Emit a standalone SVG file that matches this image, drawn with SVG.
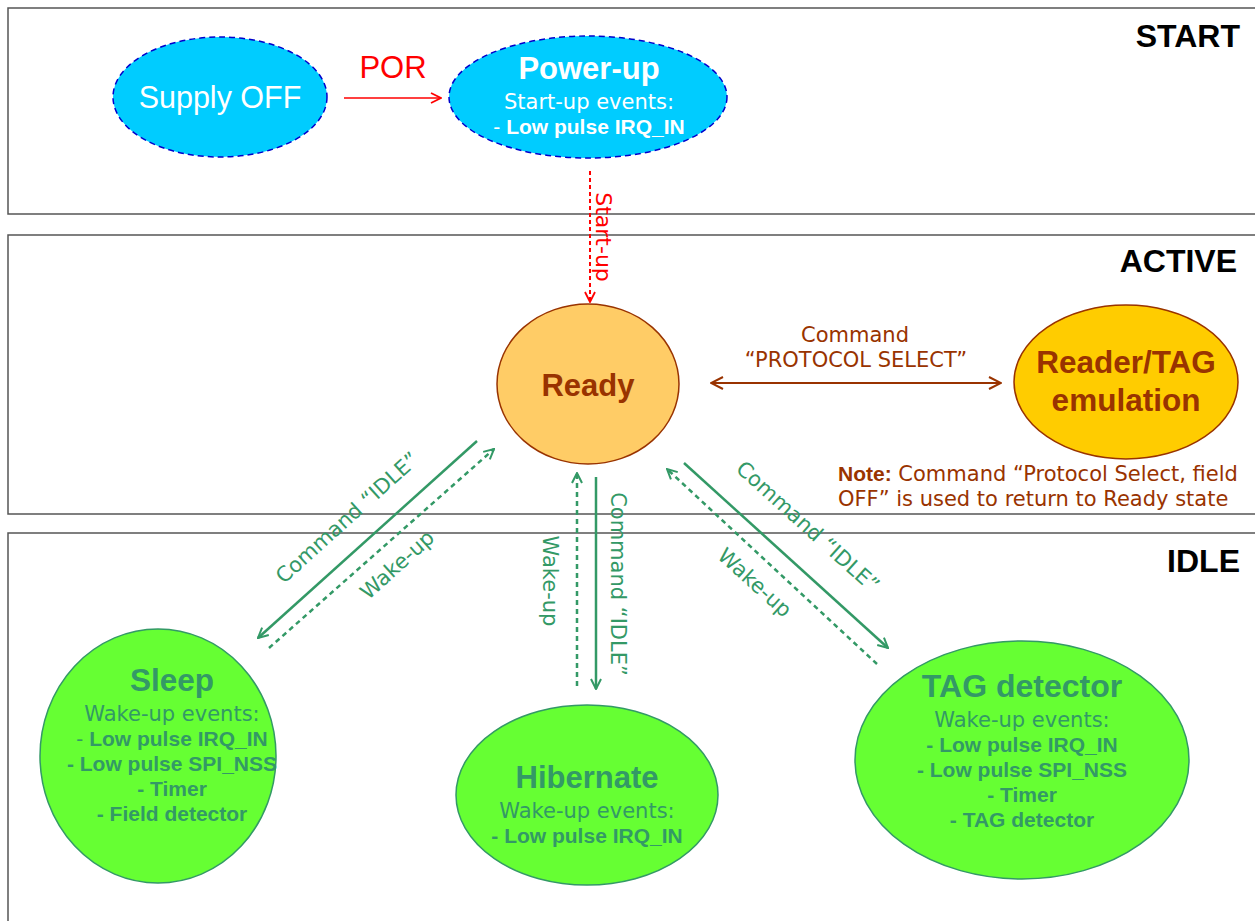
<svg xmlns="http://www.w3.org/2000/svg" width="1255" height="921" viewBox="0 0 1255 921">
<style>
.box{fill:#fff;stroke:#555;stroke-width:1.5}
.hdr{font-family:"Liberation Sans",Arial,sans-serif;font-weight:bold;font-size:32px;fill:#000;text-anchor:end}
.v{font-family:"DejaVu Sans",Verdana,sans-serif}
.a{font-family:"Liberation Sans",Arial,sans-serif}
.c{text-anchor:middle}
.g{fill:#339966}
.gl{stroke:#339966;stroke-width:2.5;fill:none}
.gd{stroke:#339966;stroke-width:2.5;fill:none;stroke-dasharray:5 4}
.b{font-weight:bold}
</style>
<defs>
<marker id="ag" viewBox="0 0 12 12" refX="11" refY="6" markerWidth="12" markerHeight="12" markerUnits="userSpaceOnUse" orient="auto-start-reverse">
<path d="M1,1 L11,6 L1,11" fill="none" stroke="#339966" stroke-width="2"/>
</marker>
<marker id="ar" viewBox="0 0 12 12" refX="11" refY="6" markerWidth="12" markerHeight="12" markerUnits="userSpaceOnUse" orient="auto-start-reverse">
<path d="M1,1 L11,6 L1,11" fill="none" stroke="#ff0000" stroke-width="1.8"/>
</marker>
<marker id="ab" viewBox="0 0 14 14" refX="13" refY="7" markerWidth="14" markerHeight="14" markerUnits="userSpaceOnUse" orient="auto-start-reverse">
<path d="M1,1 L13,7 L1,13" fill="none" stroke="#993300" stroke-width="2"/>
</marker>
</defs>

<g id="zones">
<rect class="box" x="8" y="8" width="1260" height="206"/>
<rect class="box" x="8" y="235" width="1260" height="279"/>
<rect class="box" x="8" y="533" width="1260" height="400"/>
<text class="hdr" x="1240" y="47">START</text>
<text class="hdr" x="1237" y="272">ACTIVE</text>
<text class="hdr" x="1240" y="572">IDLE</text>
</g>

<g id="connectors">
<line x1="344" y1="98" x2="441" y2="98" stroke="#ff0000" stroke-width="1.5" marker-end="url(#ar)"/>
<text class="a c" x="393" y="78" font-size="31" fill="#ff0000">POR</text>
<line x1="590" y1="171" x2="590" y2="302" stroke="#ff0000" stroke-width="2" stroke-dasharray="4 3" marker-end="url(#ar)"/>
<text class="v c" font-size="22" fill="#ff0000" transform="translate(596,237) rotate(90)">Start-up</text>

<line x1="711" y1="383" x2="1001" y2="383" stroke="#993300" stroke-width="2" marker-start="url(#ab)" marker-end="url(#ab)"/>
<text class="v c" font-size="21" fill="#993300" x="855" y="342">Command</text>
<text class="v c" font-size="21" fill="#993300" x="856" y="367">“PROTOCOL SELECT”</text>

<line class="gl" x1="477" y1="441" x2="258" y2="638" marker-end="url(#ag)"/>
<line class="gd" x1="269" y1="648" x2="494" y2="449" marker-end="url(#ag)"/>
<text class="v c g" font-size="21" transform="translate(352,523) rotate(-42)">Command “IDLE”</text>
<text class="v c g" font-size="21" transform="translate(402,570) rotate(-42)">Wake-up</text>

<line class="gd" x1="577" y1="686" x2="577" y2="473" marker-end="url(#ag)"/>
<line class="gl" x1="596" y1="477" x2="596" y2="689" marker-end="url(#ag)"/>
<text class="v c g" font-size="21" transform="translate(611,584) rotate(90)">Command “IDLE”</text>
<text class="v c g" font-size="21" transform="translate(543,581) rotate(90)">Wake-up</text>

<line class="gl" x1="684" y1="463" x2="888" y2="648" marker-end="url(#ag)"/>
<line class="gd" x1="877" y1="664" x2="667" y2="469" marker-end="url(#ag)"/>
<text class="v c g" font-size="21" transform="translate(803,532) rotate(42)">Command “IDLE”</text>
<text class="v c g" font-size="21" transform="translate(750,588) rotate(42)">Wake-up</text>
</g>

<g id="supply-off">
<ellipse cx="220" cy="97" rx="107" ry="60" fill="#00ccff" stroke="#0000cc" stroke-width="1.5" stroke-dasharray="6 4"/>
<text class="a c" x="220" y="108" font-size="30.5" fill="#fff">Supply OFF</text>
</g>

<g id="power-up">
<ellipse cx="588" cy="97" rx="139" ry="61" fill="#00ccff" stroke="#0000cc" stroke-width="1.5" stroke-dasharray="6 4"/>
<text class="a c b" x="589" y="79" font-size="31" fill="#fff">Power-up</text>
<text class="v c" x="589" y="109" font-size="21" fill="#fff">Start-up events:</text>
<text class="a c" x="589" y="134" font-size="21" fill="#fff">- <tspan class="b">Low pulse IRQ_IN</tspan></text>
</g>

<g id="ready">
<ellipse cx="588" cy="384" rx="91" ry="80" fill="#ffcc66" stroke="#993300" stroke-width="1.5"/>
<text class="a c b" x="588" y="396" font-size="31" fill="#993300">Ready</text>
</g>

<g id="reader-tag">
<ellipse cx="1126" cy="382" rx="112" ry="77" fill="#ffcc00" stroke="#993300" stroke-width="1.5"/>
<text class="a c b" x="1126" y="373" font-size="31.5" fill="#993300">Reader/TAG</text>
<text class="a c b" x="1126" y="411" font-size="31.5" fill="#993300">emulation</text>
</g>

<g id="note">
<text class="v" x="838" y="481" font-size="21" fill="#993300"><tspan class="a b" font-size="21">Note:</tspan> Command “Protocol Select, field</text>
<text class="v" x="838" y="506" font-size="21" fill="#993300">OFF” is used to return to Ready state</text>
</g>

<g id="sleep">
<ellipse cx="158" cy="756" rx="118" ry="127" fill="#66ff33" stroke="#339966" stroke-width="1.5"/>
<text class="a c b g" x="172" y="691" font-size="31.5">Sleep</text>
<text class="v c g" x="172" y="721" font-size="21">Wake-up events:</text>
<text class="a c g" x="172" y="746" font-size="21">- <tspan class="b">Low pulse IRQ_IN</tspan></text>
<text class="a c g b" x="172" y="771" font-size="21">- Low pulse SPI_NSS</text>
<text class="a c g b" x="172" y="796" font-size="21">- Timer</text>
<text class="a c g b" x="172" y="821" font-size="21">- Field detector</text>
</g>

<g id="hibernate">
<ellipse cx="587" cy="795" rx="131" ry="90" fill="#66ff33" stroke="#339966" stroke-width="1.5"/>
<text class="a c b g" x="587" y="788" font-size="31">Hibernate</text>
<text class="v c g" x="587" y="818" font-size="21">Wake-up events:</text>
<text class="a c g b" x="587" y="843" font-size="21">- Low pulse IRQ_IN</text>
</g>

<g id="tag-detector">
<ellipse cx="1022" cy="760" rx="167" ry="119" fill="#66ff33" stroke="#339966" stroke-width="1.5"/>
<text class="a c b g" x="1022" y="697" font-size="32">TAG detector</text>
<text class="v c g" x="1022" y="727" font-size="21">Wake-up events:</text>
<text class="a c g b" x="1022" y="752" font-size="21">- Low pulse IRQ_IN</text>
<text class="a c g b" x="1022" y="777" font-size="21">- Low pulse SPI_NSS</text>
<text class="a c g b" x="1022" y="802" font-size="21">- Timer</text>
<text class="a c g b" x="1022" y="827" font-size="21">- TAG detector</text>
</g>
</svg>
